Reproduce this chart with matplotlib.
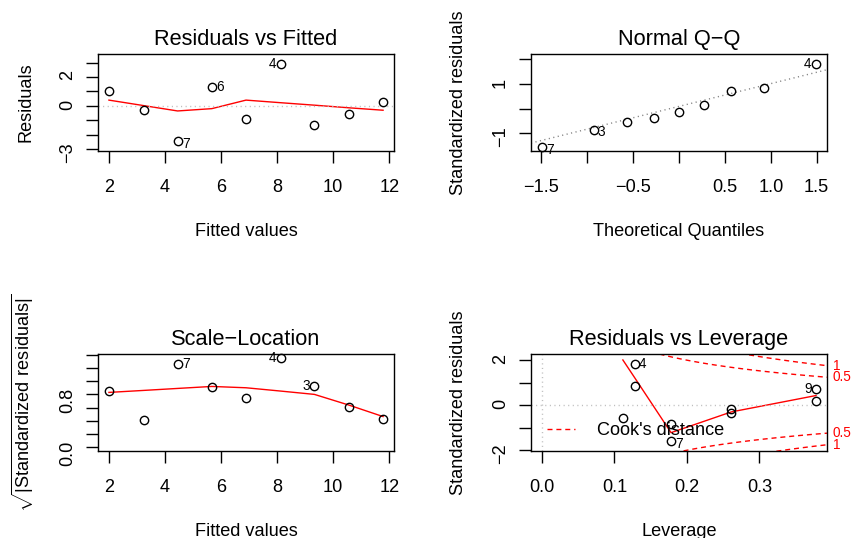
import numpy as np
import matplotlib
matplotlib.use("Agg")
from matplotlib import pyplot as plt

plt.rcParams['font.family'] = ['Liberation Sans', 'DejaVu Sans']
plt.rcParams['mathtext.fontset'] = 'custom'
plt.rcParams['mathtext.rm'] = 'Liberation Sans'
plt.rcParams['lines.scale_dashes'] = False

# lm 诊断图数据 (9 个观测)
fitted = [2.00, 3.24, 4.45, 5.67, 6.89, 8.13, 9.33, 10.55, 11.78]
resid = [1.00, -0.26, -2.44, 1.33, -0.91, 2.91, -1.33, -0.53, 0.28]
resid_smooth = [0.40, 0.02, -0.35, -0.19, 0.40, 0.22, 0.05, -0.13, -0.30]
resid_ids = {2: "7", 3: "6", 5: "4"}

theo_q = [-1.49, -0.93, -0.57, -0.27, 0.00, 0.27, 0.57, 0.93, 1.49]
std_sorted = [-1.58, -0.86, -0.56, -0.37, -0.16, 0.16, 0.73, 0.85, 1.82]
qq_ids = {0: "7", 1: "3", 8: "4"}
qq_intercept = 0.087
qq_slope = 0.926

sqrt_std = [0.855, 0.41, 1.26, 0.915, 0.745, 1.345, 0.925, 0.61, 0.435]
sqrt_smooth = [0.83, 0.86, 0.89, 0.92, 0.90, 0.85, 0.80, 0.64, 0.465]
sl_ids = {2: "7", 5: "4", 6: "3"}

leverage = [0.1277, 0.1277, 0.1116, 0.178, 0.178, 0.261, 0.261, 0.378, 0.378]
std_resid = [1.84, 0.85, -0.55, -0.82, -1.60, -0.15, -0.33, 0.73, 0.19]
lev_smooth_x = [0.1116, 0.1277, 0.178, 0.261, 0.378]
lev_smooth_y = [2.01, 1.23, -1.22, -0.30, 0.43]
lev_ids = {0: "4", 4: "7", 7: "9"}
cook_levels = [0.5, 1]
n_coef = 2

BASE = 13.1
SMALL = 9.8
LW = 1.0
DOT = (0, (0.8, 2.5))
DASH = (0, (3.6, 2.8))


def style(ax, xlim, ylim, xticks, xlabels, yticks, ylabels, title, xlab, ylab):
    ax.set_xlim(xlim)
    ax.set_ylim(ylim)
    ax.set_xticks(xticks, xlabels)
    ax.set_yticks(yticks, ylabels)
    for sp in ax.spines.values():
        sp.set_linewidth(LW)
    ax.tick_params(length=8.6, width=LW, labelsize=BASE)
    ax.tick_params(axis='x', pad=11.5)
    ax.tick_params(axis='y', labelrotation=90, pad=7.2)
    ax.set_title(title, fontsize=15.7, pad=6.5)
    ax.set_xlabel(xlab, fontsize=BASE, va='baseline')
    ax.xaxis.set_label_coords(0.5, -85 / 97)
    ax.set_ylabel(ylab, fontsize=BASE, va='baseline')
    ax.yaxis.set_label_coords(-68 / 296, 0.5)


def points(ax, x, y):
    ax.plot(x, y, 'o', mfc='none', mec='black', ms=6, mew=1.0, clip_on=False, zorder=3)


def label_ids(ax, x, y, ids):
    # 左半边的点标在右侧, 右半边的点标在左侧
    mid = sum(ax.get_xlim()) / 2
    for i, s in ids.items():
        right = x[i] <= mid
        dy = -3.0 - (1.8 if y[i] < 0 else 0)
        ax.annotate(s, (x[i], y[i]), xytext=(3 if right else -3, dy),
                    textcoords='offset points', ha='left' if right else 'right',
                    va='baseline', fontsize=SMALL, annotation_clip=False)


fig = plt.figure(figsize=(8.52, 5.38), dpi=100)
L, R = 98 / 852, 531 / 852
W, H = 296 / 852, 97 / 538
T, B = 1 - 151 / 538, 1 - 451 / 538

ax1 = fig.add_axes([L, T, W, H])
ax2 = fig.add_axes([R, T, W, H])
ax3 = fig.add_axes([L, B, W, H])
ax4 = fig.add_axes([R, B, W, H])

m = '\u2212'

# Residuals vs Fitted
style(ax1, (1.61, 12.17), (-3.12, 3.59), [2, 4, 6, 8, 10, 12], ['2', '4', '6', '8', '10', '12'],
      [-3, -2, -1, 0, 1, 2, 3], [m + '3', '', '', '0', '', '2', ''],
      'Residuals vs Fitted', 'Fitted values', 'Residuals')
points(ax1, fitted, resid)
ax1.plot(fitted, resid_smooth, color='red', lw=LW)
ax1.axhline(0, color='#bebebe', lw=LW, ls=DOT)
label_ids(ax1, fitted, resid, resid_ids)

# Normal Q-Q
style(ax2, (-1.613, 1.613), (-1.73, 2.22), [-1.5, -1.0, -0.5, 0, 0.5, 1.0, 1.5],
      [m + '1.5', '', m + '0.5', '', '0.5', '1.0', '1.5'],
      [-1, 0, 1, 2], [m + '1', '', '1', ''],
      'Normal Q\u2212Q', 'Theoretical Quantiles', 'Standardized residuals')
points(ax2, theo_q, std_sorted)
ax2.axline((0, qq_intercept), slope=qq_slope, color='#7f7f7f', lw=LW, ls=DOT)
label_ids(ax2, theo_q, std_sorted, qq_ids)

# Scale-Location
style(ax3, (1.61, 12.17), (-0.055, 1.41), [2, 4, 6, 8, 10, 12], ['2', '4', '6', '8', '10', '12'],
      [0, 0.2, 0.4, 0.6, 0.8, 1.0, 1.2, 1.4], ['0.0', '', '', '', '0.8', '', '', ''],
      'Scale\u2212Location', 'Fitted values',
      r'$\sqrt{|\mathrm{Standardized\ residuals}|}$')
points(ax3, fitted, sqrt_std)
ax3.plot(fitted, sqrt_smooth, color='red', lw=LW)
label_ids(ax3, fitted, sqrt_std, sl_ids)

# Residuals vs Leverage, 带 Cook 距离等值线
xr = 0.3931
style(ax4, (-0.0151, xr), (-2.035, 2.275), [0, 0.1, 0.2, 0.3], ['0.0', '0.1', '0.2', '0.3'],
      [-2, -1, 0, 1, 2], [m + '2', '', '0', '', '2'],
      'Residuals vs Leverage', 'Leverage', 'Standardized residuals')
points(ax4, leverage, std_resid)
ax4.plot(lev_smooth_x, lev_smooth_y, color='red', lw=LW)
ax4.axhline(0, color='#bebebe', lw=LW, ls=DOT)
ax4.axvline(0, color='#bebebe', lw=LW, ls=DOT)
hh = np.linspace(0.001, xr, 101)
for c in cook_levels:
    cl = np.sqrt(c * n_coef * (1 - hh) / hh)
    ax4.plot(hh, cl, color='red', lw=LW, ls=DASH)
    ax4.plot(hh, -cl, color='red', lw=LW, ls=DASH)
    yr = np.sqrt(c * n_coef * (1 - xr) / xr)
    for s in (1, -1):
        ax4.annotate('%g' % c, (1, s * yr), xycoords=('axes fraction', 'data'),
                     xytext=(4, 0), textcoords='offset points', ha='left', va='center',
                     color='red', fontsize=SMALL, annotation_clip=False)
label_ids(ax4, leverage, std_resid, lev_ids)
ax4.plot([], [], color='red', lw=LW, ls=DASH, label="Cook's distance")
ax4.legend(loc='center left', bbox_to_anchor=(15.7 / 296, 0.21), frameon=False,
           fontsize=BASE, handlelength=1.55, handletextpad=1.2, borderpad=0, borderaxespad=0)

plt.savefig('out.png', dpi=100)
